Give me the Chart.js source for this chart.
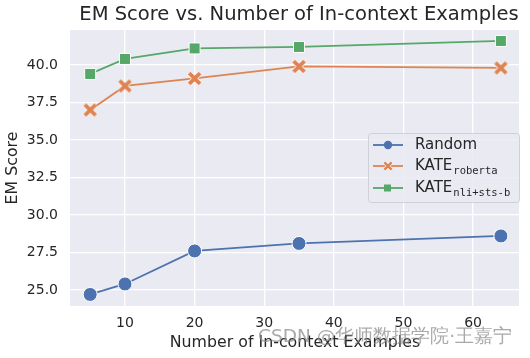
<!DOCTYPE html>
<html>
<head>
<meta charset="utf-8">
<script src="https://cdn.jsdelivr.net/npm/chart.js@4/dist/chart.umd.min.js"></script>
<style>
  html, body { margin: 0; padding: 0; background: #fff; }
</style>
</head>
<body>
<canvas id="emChart" width="530" height="358"></canvas>
<script>
const examples = [5, 10, 20, 35, 64];
const randomScores = [24.7, 25.4, 27.6, 28.1, 28.6];
const robertaScores = [37.0, 38.6, 39.1, 39.9, 39.8];
const nliScores = [39.4, 40.4, 41.1, 41.2, 41.6];
const yTicks = [25.0, 27.5, 30.0, 32.5, 35.0, 37.5, 40.0];
const xTicks = [10, 20, 30, 40, 50, 60];

const FONT = "'DejaVu Sans', sans-serif";
const INK = '#262626';

// filled X marker like seaborn's "X"
function makeX(size, color, edge) {
  const c = document.createElement('canvas');
  c.width = size; c.height = size;
  const g = c.getContext('2d');
  const m = size / 2, a = size * 0.36;
  g.lineCap = 'butt';
  g.strokeStyle = edge;
  g.lineWidth = size * 0.36;
  g.beginPath();
  g.moveTo(m - a, m - a); g.lineTo(m + a, m + a);
  g.moveTo(m + a, m - a); g.lineTo(m - a, m + a);
  g.stroke();
  g.strokeStyle = color;
  g.lineWidth = size * 0.26;
  g.stroke();
  return c;
}
const xMark = makeX(15, '#DD8452', '#ffffff');
const xMarkSmall = makeX(10, '#DD8452', '#ffffff');

const overlay = {
  id: 'overlay',
  beforeDraw(chart) {
    const { ctx, chartArea: a } = chart;
    ctx.save();
    ctx.fillStyle = '#EAEAF2';
    ctx.fillRect(a.left, a.top, a.right - a.left, a.bottom - a.top);
    ctx.restore();
  },
  afterDraw(chart) {
    const { ctx, chartArea: a } = chart;
    ctx.save();
    // title
    ctx.fillStyle = INK;
    ctx.textAlign = 'center';
    ctx.textBaseline = 'middle';
    ctx.font = '19.5px ' + FONT;
    ctx.fillText('EM Score vs. Number of In-context Examples', 299, 15);
    // axis titles
    ctx.font = '15.8px ' + FONT;
    ctx.fillText('Number of In-context Examples', 295, 343);
    ctx.save();
    ctx.translate(13, (a.top + a.bottom) / 2);
    ctx.rotate(-Math.PI / 2);
    ctx.fillText('EM Score', 0, 0);
    ctx.restore();

    // legend
    const bx = 368, by = 133, bw = 151, bh = 69;
    ctx.fillStyle = 'rgba(234,234,242,0.85)';
    ctx.strokeStyle = '#d0d0d8';
    ctx.lineWidth = 1;
    ctx.beginPath();
    ctx.roundRect(bx + 0.5, by + 0.5, bw, bh, 3);
    ctx.fill();
    ctx.stroke();
    const rows = [
      { y: 145, color: '#4C72B0', main: 'Random', sub: '' },
      { y: 166, color: '#DD8452', main: 'KATE', sub: 'roberta' },
      { y: 188, color: '#55A868', main: 'KATE', sub: 'nli+sts-b' }
    ];
    rows.forEach((r, i) => {
      ctx.strokeStyle = r.color;
      ctx.lineWidth = 1.8;
      ctx.beginPath();
      ctx.moveTo(373, r.y); ctx.lineTo(403, r.y);
      ctx.stroke();
      ctx.fillStyle = r.color;
      if (i === 0) {
        ctx.beginPath(); ctx.arc(388, r.y, 4.2, 0, Math.PI * 2); ctx.fill();
      } else if (i === 1) {
        ctx.drawImage(xMarkSmall, 383, r.y - 5);
      } else {
        ctx.fillRect(384, r.y - 3.5, 7, 7);
      }
      ctx.fillStyle = INK;
      ctx.textAlign = 'left';
      ctx.textBaseline = 'middle';
      ctx.font = '15px ' + FONT;
      ctx.fillText(r.main, 415, r.y);
      if (r.sub) {
        const w = ctx.measureText(r.main).width;
        ctx.font = "10.5px 'DejaVu Sans Mono', monospace";
        ctx.fillText(r.sub, 415 + w + 1, r.y + 5);
      }
    });

    // watermark
    ctx.font = '18.5px ' + FONT;
    ctx.fillStyle = 'rgba(140,140,140,0.75)';
    ctx.textAlign = 'left';
    ctx.fillText('CSDN @华师数据学院·王嘉宁', 258, 337);
    ctx.restore();
  }
};

new Chart(document.getElementById('emChart'), {
  type: 'line',
  data: {
    datasets: [
      {
        label: 'Random',
        data: examples.map((x, i) => ({ x, y: randomScores[i] })),
        borderColor: '#4C72B0',
        backgroundColor: '#4C72B0',
        pointBackgroundColor: '#4C72B0',
        pointBorderColor: '#ffffff',
        pointBorderWidth: 1,
        pointRadius: 7,
        pointStyle: 'circle',
        borderWidth: 1.8
      },
      {
        label: 'KATE roberta',
        data: examples.map((x, i) => ({ x, y: robertaScores[i] })),
        borderColor: '#DD8452',
        backgroundColor: '#DD8452',
        pointStyle: xMark,
        pointRadius: 7,
        borderWidth: 1.8
      },
      {
        label: 'KATE nli+sts-b',
        data: examples.map((x, i) => ({ x, y: nliScores[i] })),
        borderColor: '#55A868',
        backgroundColor: '#55A868',
        pointBackgroundColor: '#55A868',
        pointBorderColor: '#ffffff',
        pointBorderWidth: 1,
        pointRadius: 7.8,
        pointStyle: 'rect',
        borderWidth: 1.8
      }
    ]
  },
  options: {
    responsive: false,
    animation: false,
    layout: { padding: { top: 30, right: 11, left: 0, bottom: 0 } },
    plugins: {
      legend: { display: false },
      tooltip: { enabled: false }
    },
    scales: {
      x: {
        type: 'linear',
        min: 2.1,
        max: 66.6,
        afterFit: s => { s.height = 52; },
        afterBuildTicks: s => { s.ticks = xTicks.map(v => ({ value: v })); },
        grid: { color: '#ffffff', lineWidth: 1.3, drawTicks: false },
        border: { display: false },
        ticks: {
          padding: 9,
          color: INK,
          font: { size: 14, family: FONT },
          callback: v => String(v)
        }
      },
      y: {
        min: 23.93,
        max: 42.33,
        afterFit: s => { s.width = 70; },
        afterBuildTicks: s => { s.ticks = yTicks.map(v => ({ value: v })); },
        grid: { color: '#ffffff', lineWidth: 1.3, drawTicks: false },
        border: { display: false },
        ticks: {
          padding: 12,
          color: INK,
          font: { size: 14, family: FONT },
          callback: v => Number(v).toFixed(1)
        }
      }
    }
  },
  plugins: [overlay]
});
</script>
</body>
</html>
